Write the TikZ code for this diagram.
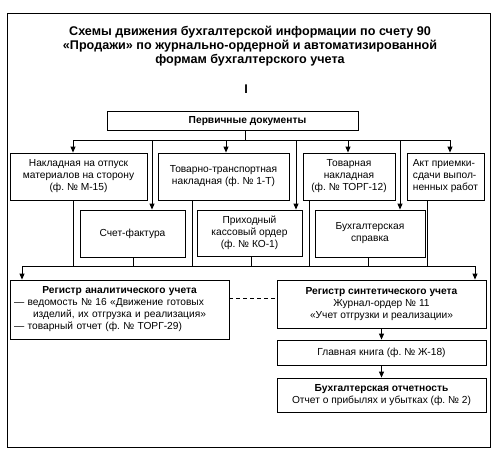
\documentclass[tikz,border=0pt]{standalone}
\usepackage{fontspec}
\setmainfont{Liberation Sans}
\usetikzlibrary{arrows.meta}
\frenchspacing
\begin{document}
\begin{tikzpicture}[x=1pt,y=-1pt,
  box/.style={draw, line width=0.85pt, inner sep=0pt, align=center, font=\fontsize{10.2}{12}\selectfont\frenchspacing},
  arr/.style={-{Triangle[width=5pt,length=6pt]}, line width=0.85pt},
  ln/.style={line width=0.85pt},
  ttl/.style={font=\bfseries\fontsize{12.6}{14}\selectfont, align=center}]
\useasboundingbox (0,0) rectangle (497,460);
\draw[line width=0.9pt] (7,13) rectangle (490,447);

\node[ttl] (title) at (250,46) {Схемы движения бухгалтерской информации по счету 90\\«Продажи» по журнально-ордерной и автоматизированной\\формам бухгалтерского учета};
\node[ttl] (roman) at (246,89) {I};

\node[box, minimum width=251pt, minimum height=19pt, font=\bfseries\fontsize{10.2}{12}\selectfont] (prim) at (232.5,121) {\hspace*{30pt}Первичные документы};

% row 1
\node[box, minimum width=137pt, minimum height=47pt] (nakl) at (78.5,176.5) {Накладная на отпуск\\материалов на сторону\\(ф. № М-15)};
\node[box, minimum width=131pt, minimum height=47pt] (ttn) at (223.5,176.5) {Товарно-транспортная\\накладная (ф. № 1-Т)};
\node[box, minimum width=92pt, minimum height=47pt] (torg) at (349,176.5) {Товарная\\накладная\\(ф. № ТОРГ-12)};
\node[box, minimum width=77pt, minimum height=47pt, align=left] (akt) at (445.5,176.5) {Акт приемки-\\сдачи выпол-\\ненных работ};

% row 2
\node[box, minimum width=105pt, minimum height=47pt] (sf) at (132.5,233.5) {Счет-фактура};
\node[box, minimum width=105pt, minimum height=46pt] (pko) at (249.5,233) {Приходный\\кассовый ордер\\(ф. № КО-1)};
\node[box, minimum width=110pt, minimum height=47pt] (bs) at (370,233.5) {Бухгалтерская\\справка};

% registers
\node[box, minimum width=219pt, minimum height=59pt, text width=211pt, align=left] (ra) at (119.5,309.5)
  {\makebox[\linewidth][c]{\bfseries Регистр аналитического учета}\\
   — ведомость № 16 «Движение готовых\\
   \hspace*{19pt}изделий, их отгрузка и реализация»\\
   — товарный отчет (ф. № ТОРГ-29)};
\node[box, minimum width=209pt, minimum height=48pt] (rs) at (381.5,304)
  {\textbf{Регистр синтетического учета}\\Журнал-ордер № 11\\«Учет отгрузки и реализации»};
\node[box, minimum width=209pt, minimum height=25pt] (gk) at (381.5,352.5) {Главная книга (ф. № Ж-18)};
\node[box, minimum width=209pt, minimum height=34pt] (bo) at (381.5,395)
  {\textbf{Бухгалтерская отчетность}\\Отчет о прибылях и убытках (ф. № 2)};

% top distribution bus
\coordinate (top) at (245,140);
\coordinate (t1) at (73,140);
\coordinate (t2) at (152,140);
\coordinate (t3) at (226,140);
\coordinate (t4) at (296,140);
\coordinate (t5) at (348,140);
\coordinate (t6) at (400,140);
\coordinate (t7) at (450,140);
\draw[ln] (prim.south -| top) -- (top);
\draw[ln] (t1) -- (t7);
\draw[arr] (t1) -- (t1 |- nakl.north);
\draw[arr] (t2) -- (t2 |- sf.north);
\draw[arr] (t3) -- (t3 |- ttn.north);
\draw[arr] (t4) -- (t4 |- pko.north);
\draw[arr] (t5) -- (t5 |- torg.north);
\draw[arr] (t6) -- (t6 |- bs.north);
\draw[arr] (t7) -- (t7 |- akt.north);

% bottom collecting bus
\coordinate (u0) at (22,266);
\coordinate (u8) at (475,266);
\coordinate (v1) at (73,266);
\coordinate (v2) at (133,266);
\coordinate (v3) at (192,266);
\coordinate (v4) at (251,266);
\coordinate (v5) at (309,266);
\coordinate (v6) at (368,266);
\coordinate (v7) at (427,266);
\draw[ln] (u0) -- (u8);
\draw[ln] (v1) -- (v1 |- nakl.south);
\draw[ln] (v2) -- (v2 |- sf.south);
\draw[ln] (v3) -- (v3 |- ttn.south);
\draw[ln] (v4) -- (v4 |- pko.south);
\draw[ln] (v5) -- (v5 |- torg.south);
\draw[ln] (v6) -- (v6 |- bs.south);
\draw[ln] (v7) -- (v7 |- akt.south);
\draw[arr] (u0) -- (u0 |- ra.north);
\draw[arr] (u8) -- (u8 |- rs.north);

% dashed link
\coordinate (d) at (0,298);
\draw[ln, dash pattern=on 4pt off 3pt] (ra.east |- d) -- (rs.west |- d);

\draw[arr] (rs.south) -- (gk.north);
\draw[arr] (gk.south) -- (bo.north);
\end{tikzpicture}
\end{document}
